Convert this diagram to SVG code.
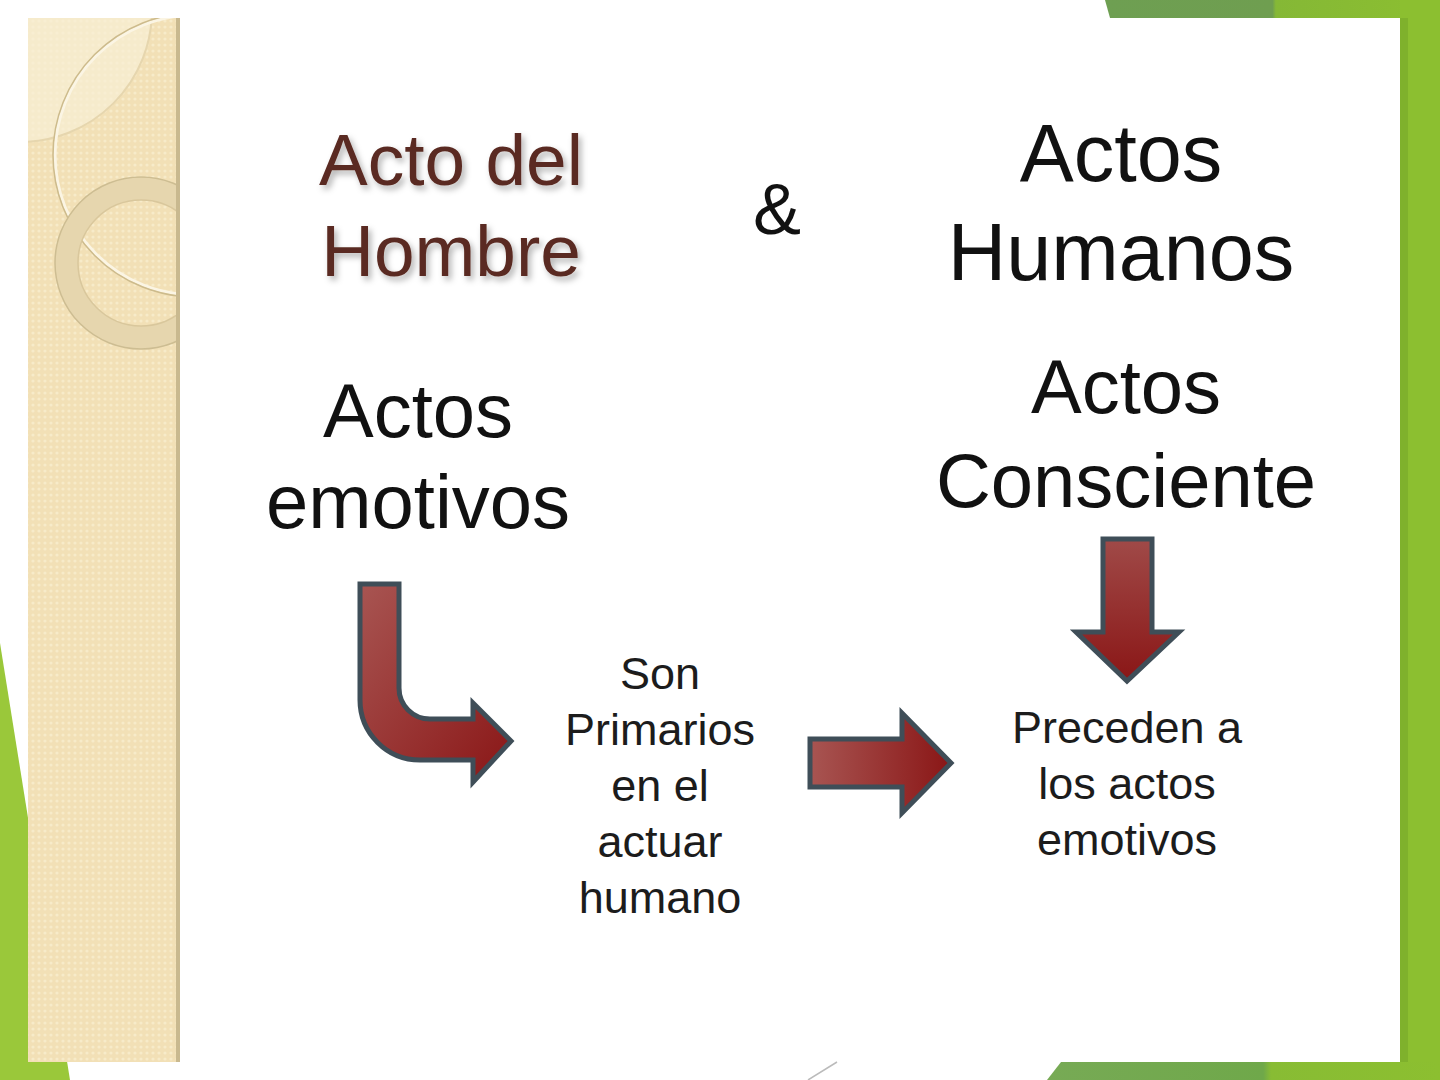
<svg xmlns="http://www.w3.org/2000/svg" width="1440" height="1080" viewBox="0 0 1440 1080">
<defs>
<style>
.t{font-family:"Liberation Sans",Arial,sans-serif;text-anchor:middle}
.big{font-size:76px;fill:#111}
.title{font-size:73px;fill:#5a2b22}
.small{font-size:45px;fill:#1c1c1c}
.arrow{fill:url(#ag);stroke:#3f4e58;stroke-width:5;stroke-linejoin:miter}
</style>
<linearGradient id="ag" x1="0" y1="0" x2="1" y2="1">
<stop offset="0" stop-color="#a85552"/>
<stop offset="1" stop-color="#8a1616"/>
</linearGradient>
<linearGradient id="ag2" x1="0" y1="0" x2="1" y2="0">
<stop offset="0" stop-color="#a85552"/>
<stop offset="1" stop-color="#8a1616"/>
</linearGradient>
<linearGradient id="agd" x1="0" y1="0" x2="0" y2="1">
<stop offset="0" stop-color="#a04a48"/>
<stop offset="1" stop-color="#8a1616"/>
</linearGradient>
<linearGradient id="gtop" x1="0" y1="0" x2="1" y2="0">
<stop offset="0" stop-color="#6e9f52"/>
<stop offset="0.5" stop-color="#6f9e50"/>
<stop offset="0.51" stop-color="#85b836"/>
<stop offset="1" stop-color="#8cbf30"/>
</linearGradient>
<linearGradient id="gbot" x1="0" y1="0" x2="1" y2="0">
<stop offset="0" stop-color="#77aa55"/>
<stop offset="0.55" stop-color="#6fa84a"/>
<stop offset="0.57" stop-color="#88bc34"/>
<stop offset="1" stop-color="#8cbf30"/>
</linearGradient>
<pattern id="tex" width="6" height="6" patternUnits="userSpaceOnUse">
<rect width="6" height="6" fill="#f2e0b6"/>
<circle cx="3" cy="3" r="1.6" fill="#f7ebc9"/>
</pattern>
<clipPath id="pc"><rect x="28" y="18" width="152" height="1044"/></clipPath>
<filter id="sh" x="-10%" y="-10%" width="120%" height="130%">
<feDropShadow dx="3" dy="4" stdDeviation="3" flood-color="#000" flood-opacity="0.3"/>
</filter>
</defs>
<rect width="1440" height="1080" fill="#ffffff"/>
<!-- green background pieces -->
<polygon points="1105,0 1440,0 1440,18 1110,18" fill="url(#gtop)"/>
<rect x="1400" y="0" width="40" height="1080" fill="#8cbf30"/>
<rect x="1400" y="18" width="8" height="1044" fill="#7fb12c"/>
<polygon points="1061,1062 1440,1062 1440,1080 1047,1080" fill="url(#gbot)"/>
<polygon points="0,643 70,1080 0,1080" fill="#9ac83a"/>
<line x1="808" y1="1080" x2="837" y2="1062" stroke="#bbbbbb" stroke-width="1.5"/>
<!-- left decorative panel -->
<g id="panel">
<rect x="28" y="18" width="152" height="1044" fill="url(#tex)"/>
<g clip-path="url(#pc)">
<circle cx="20" cy="10" r="132" fill="#f8efd6" opacity="0.7"/>
<circle cx="20" cy="10" r="132" fill="none" stroke="#e6d6ae" stroke-width="2"/>
<circle cx="195" cy="155" r="140" fill="none" stroke="#fbf5e4" stroke-width="3"/>
<circle cx="195" cy="155" r="142" fill="none" stroke="#cdbb8c" stroke-width="1.5"/>
<circle cx="141" cy="263" r="74.5" fill="none" stroke="#e6d6ae" stroke-width="23"/>
<circle cx="141" cy="263" r="86" fill="none" stroke="#cdbd92" stroke-width="1.5"/>
<circle cx="141" cy="263" r="63" fill="none" stroke="#d9c79c" stroke-width="1.5"/>
</g>
<rect x="176" y="18" width="4" height="1044" fill="#c9b98f"/>
</g>
<!-- texts -->
<g id="acto-del-hombre" filter="url(#sh)">
<text class="t title" x="451" y="185">Acto del</text>
<text class="t title" x="451" y="276">Hombre</text>
</g>
<g id="amp"><text class="t big" x="777" y="234" style="font-size:72px">&amp;</text></g>
<g id="actos-humanos">
<text class="t big" x="1121" y="181" style="font-size:81px">Actos</text>
<text class="t big" x="1121" y="280" style="font-size:81px">Humanos</text>
</g>
<g id="actos-emotivos">
<text class="t big" x="418" y="437">Actos</text>
<text class="t big" x="418" y="528">emotivos</text>
</g>
<g id="actos-consciente">
<text class="t big" x="1126" y="413">Actos</text>
<text class="t big" x="1126" y="507">Consciente</text>
</g>
<g id="son-primarios">
<text class="t small" x="660" y="689">Son</text>
<text class="t small" x="660" y="745">Primarios</text>
<text class="t small" x="660" y="801">en el</text>
<text class="t small" x="660" y="857">actuar</text>
<text class="t small" x="660" y="913">humano</text>
</g>
<g id="preceden">
<text class="t small" x="1127" y="743">Preceden a</text>
<text class="t small" x="1127" y="799">los actos</text>
<text class="t small" x="1127" y="855">emotivos</text>
</g>
<!-- connectors -->
<g id="connectors">
<path class="arrow" d="M360,584 L360,700 A60,60 0 0 0 420,760 L473,760 L473,782 L511,741 L473,703 L473,719 L430,719 A31,31 0 0 1 399,688 L399,584 Z"/>
<path class="arrow" style="fill:url(#ag2)" d="M810,739 L902,739 L902,713 L951,763 L902,813 L902,787 L810,787 Z"/>
<path class="arrow" style="fill:url(#agd)" d="M1103,539 L1152,539 L1152,632 L1179,632 L1127,681 L1076,632 L1103,632 Z"/>
</g>
</svg>
